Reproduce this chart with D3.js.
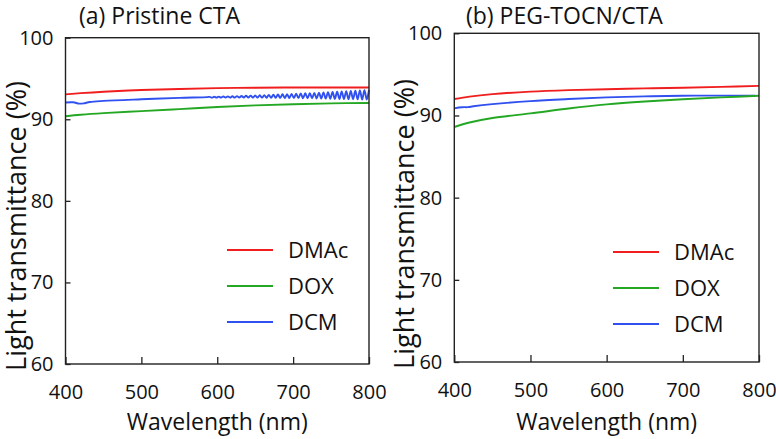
<!DOCTYPE html>
<html><head><meta charset="utf-8">
<script src="https://cdn.jsdelivr.net/npm/d3@7"></script>
<style>html,body{margin:0;padding:0;background:#fff}svg{display:block}text{font-family:"Open Sans","Noto Sans",sans-serif;fill:#111}</style>
</head><body><svg id="c" width="776" height="439"></svg>
<script>
const xTicks = [400, 500, 600, 700, 800];
const yTicks = [60, 70, 80, 90, 100];
const seriesNames = ["DMAc", "DOX", "DCM"];
const colors = {DMAc: "#f01e1e", DOX: "#24a824", DCM: "#3050f0"};

// Panel (a) Pristine CTA
const aDMAc = [[400,93.05],[420,93.2],[450,93.38],[500,93.58],[550,93.72],[600,93.82],[650,93.87],[700,93.9],[750,93.9],[800,93.9]];
const aDOX = [[400,90.37],[420,90.55],[450,90.75],[500,91.0],[550,91.25],[600,91.5],[650,91.7],[700,91.85],[750,91.95],[800,92.0]];
const aDCMbase = [[400,92.05],[410,92.08],[418,91.92],[424,91.95],[432,92.12],[450,92.25],[500,92.45],[550,92.62],[587,92.72]];
const aDCMfringeWl = [590,593,596,599,602,605,608,611,614,617,620,623,626,629,632,635,638,641,644,647,650,653,656,659,662,665,668,671,674,677,680,683,686,689,692,695,698,701,704,707,710,713,716,719,722,725,728,731,734,737,740,743,746,749,752,755,758,761,764,767,770,773,776,779,782,785,788,791,794,797,800];
const aDCMfringe = [92.75,92.65,92.76,92.66,92.78,92.66,92.79,92.66,92.81,92.66,92.82,92.66,92.84,92.66,92.86,92.66,92.88,92.66,92.90,92.65,92.92,92.65,92.94,92.65,92.96,92.64,92.99,92.63,93.01,92.63,93.03,92.62,93.06,92.61,93.08,92.61,93.11,92.60,93.13,92.59,93.16,92.58,93.19,92.57,93.21,92.56,93.24,92.55,93.27,92.54,93.30,92.53,93.32,92.52,93.35,92.50,93.38,92.49,93.41,92.48,93.44,92.46,93.47,92.45,93.51,92.44,93.54,92.42,93.57,92.41,93.60];

// Panel (b) PEG-TOCN/CTA
const bDMAc = [[400,92.0],[420,92.3],[450,92.6],[500,92.9],[550,93.08],[600,93.2],[650,93.3],[700,93.38],[750,93.48],[800,93.6]];
const bDOX = [[400,88.6],[420,89.15],[450,89.7],[500,90.25],[550,90.85],[600,91.35],[650,91.7],[700,91.97],[750,92.2],[800,92.4]];
const bDCM = [[400,90.87],[410,91.0],[418,91.02],[425,91.12],[450,91.38],[500,91.75],[550,92.0],[600,92.2],[650,92.32],[700,92.4],[750,92.42],[795,92.42]];

const aDCM = aDCMbase.concat(aDCMfringeWl.map((w,i)=>[w,aDCMfringe[i]]));

const svg = d3.select("#c");

function panel(o){
  const x = d3.scaleLinear().domain([400,800]).range([o.x0,o.x1]);
  const y = d3.scaleLinear().domain([60,100]).range([o.y1,o.y0]);
  const g = svg.append("g");
  const line = d3.line().x(d=>x(d[0])).y(d=>y(d[1])).curve(d3.curveCatmullRom);
  const order = ["DMAc","DCM","DOX"];
  order.forEach(k=>{
    g.append("path").datum(o.data[k]).attr("d",line).attr("fill","none")
      .attr("stroke",colors[k]).attr("stroke-width",1.9);
  });
  // frame
  g.append("rect").attr("x",o.x0).attr("y",o.y0).attr("width",o.x1-o.x0).attr("height",o.y1-o.y0)
    .attr("fill","none").attr("stroke","#222").attr("stroke-width",1.4);
  // x axis
  const xa = g.append("g").attr("transform",`translate(0,${o.y1})`)
    .call(d3.axisBottom(x).tickValues(xTicks).tickSize(-7).tickPadding(21).tickFormat(d3.format("d")));
  xa.select(".domain").remove();
  xa.selectAll("line").attr("stroke","#222").attr("stroke-width",1.3);
  xa.selectAll("text").attr("font-size",20).style("font-family",'"Open Sans",sans-serif').attr("fill","#111");
  const ya = g.append("g").attr("transform",`translate(${o.x0},0)`)
    .call(d3.axisLeft(y).tickValues(yTicks).tickSize(-5).tickPadding(12).tickFormat(d3.format("d")));
  ya.select(".domain").remove();
  ya.selectAll("line").attr("stroke","#222").attr("stroke-width",1.3);
  ya.selectAll("text").attr("font-size",20).style("font-family",'"Open Sans",sans-serif').attr("fill","#111");
  // titles
  g.append("text").attr("x",o.tx).attr("y",24).attr("font-size",23).text(o.title);
  g.append("text").attr("x",(o.x0+o.x1)/2).attr("y",430).attr("text-anchor","middle").attr("font-size",23).text("Wavelength (nm)");
  g.append("text").attr("transform",`translate(${o.yt},${o.ytc}) rotate(-90)`).attr("text-anchor","middle").attr("font-size",27).text("Light transmittance (%)");
  // legend
  seriesNames.forEach((k,i)=>{
    const ly = o.ly + i*36;
    g.append("line").attr("x1",o.lx).attr("x2",o.lx+46).attr("y1",ly).attr("y2",ly).attr("stroke",colors[k]).attr("stroke-width",2.2);
    g.append("text").attr("x",o.lx+61).attr("y",ly+8).attr("font-size",22).text(k);
  });
}

panel({x0:65.5,x1:369,y0:37.7,y1:364,tx:79,title:"(a) Pristine CTA",yt:26,ytc:226,lx:227,ly:250,
  data:{DMAc:aDMAc,DOX:aDOX,DCM:aDCM}});
panel({x0:454.3,x1:759,y0:33.3,y1:362,tx:466,title:"(b) PEG-TOCN/CTA",yt:414,ytc:224,lx:613,ly:252,
  data:{DMAc:bDMAc,DOX:bDOX,DCM:bDCM}});
</script></body></html>
